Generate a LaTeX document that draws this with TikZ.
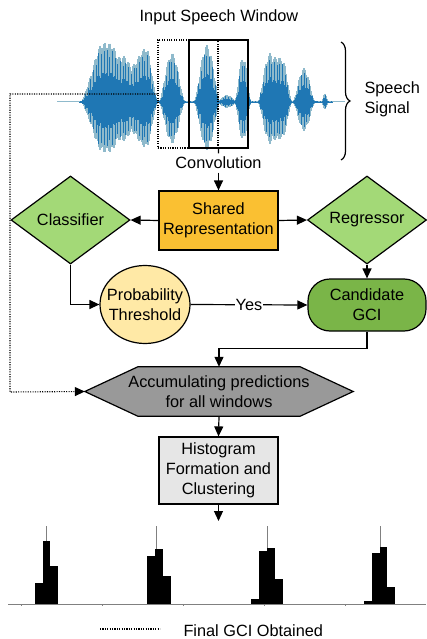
\documentclass[tikz,border=0pt]{standalone}
\usepackage{fontspec}
\setmainfont{Liberation Sans}
\usetikzlibrary{shapes.geometric,arrows.meta,decorations.pathreplacing}

\definecolor{sharedfill}{RGB}{250,192,50}
\definecolor{leaffill}{RGB}{163,217,119}
\definecolor{candfill}{RGB}{122,181,72}
\definecolor{threshfill}{RGB}{255,233,166}
\definecolor{accfill}{RGB}{153,153,153}
\definecolor{histfill}{RGB}{230,230,230}
\definecolor{wavelight}{RGB}{143,186,204}
\definecolor{wavedark}{RGB}{31,119,180}

% one bump of the speech envelope: centre, height, half width
\newcommand{\wbump}[3]{#2*max(0,1-((\x-#1)/#3)^2)^2}
\newcommand{\wavenv}{1+\wbump{95}{30}{14}+\wbump{110}{58}{20}+\wbump{128}{38}{12}%
  +\wbump{142}{50}{12}+\wbump{150}{25}{8}+\wbump{172}{48}{13}+\wbump{207}{56}{13}%
  +\wbump{227}{6}{10}+\wbump{243}{45}{8}+\wbump{270}{48}{12}+\wbump{282}{42}{10}%
  +\wbump{304}{33}{11}+\wbump{325}{8}{3}}

\begin{document}
\begin{tikzpicture}[x=1pt,y=-1pt,
  >={Triangle[width=9pt,length=10pt]},
  every node/.style={font=\fontsize{16.3}{20}\selectfont},
  block/.style={rectangle,draw,line width=1.2pt,align=center,inner sep=0pt,minimum width=119pt},
  decision/.style={diamond,draw,line width=1.2pt,fill=leaffill,aspect=1.35,inner sep=0pt,
    minimum width=119pt,minimum height=88pt},
  link/.style={->,line width=1.2pt},
  feedback/.style={line width=1.1pt,dash pattern=on 1.1pt off 1.3pt}]

  \useasboundingbox (0,0) rectangle (426,639);

  % speech waveform
  \draw[wavelight,line width=1pt] (57,102) -- (345,102);
  \foreach \x in {80,81,...,332}{
    \pgfmathsetmacro{\up}{(\wavenv)*(0.8+0.2*abs(sin(\x*37)))}
    \draw[wavelight,line width=1.1pt] (\x,102-\up) -- (\x,102+0.85*\up);
  }
  \foreach \x in {80,82.7,...,332}{
    \pgfmathsetmacro{\up}{(\wavenv)*(0.75+0.15*abs(sin(\x*41)))}
    \draw[wavedark,line width=0.9pt] (\x,102-\up) -- (\x,102+0.85*\up);
  }
  \foreach \x in {80,81,...,332}{
    \pgfmathsetmacro{\dn}{(\wavenv)*(0.35+0.15*abs(sin(\x*43)))}
    \draw[wavedark,line width=1.1pt] (\x,102-\dn) -- (\x,102+0.9*\dn);
  }

  \node (title) at (219,17) {Input Speech Window};
  \node[draw,feedback,minimum width=60pt,minimum height=108pt,inner sep=0pt] (prevwin) at (188,94) {};
  \node[draw,line width=1.5pt,minimum width=59pt,minimum height=108pt,inner sep=0pt] (win) at (218.5,94) {};
  \node (conv) at (218.5,163) {Convolution};
  \draw[line width=1.2pt,decorate,decoration={brace,amplitude=9pt}] (341,42) -- (341,160);
  \node[align=left,anchor=west] (sig) at (361,99) {Speech\\Signal};

  \node[block,fill=sharedfill,minimum height=59pt] (shared) at (218.5,220.5) {Shared\\Representation};
  \node[decision] (cls) at (70.5,220) {Classifier};
  \node[decision] (reg) at (367,220) {Regressor};
  \node[ellipse,draw,line width=1.2pt,fill=threshfill,minimum width=90pt,minimum height=78pt,
    inner sep=0pt,align=center] (thr) at (145,304.5) {\makebox[0pt]{Probability}\\\makebox[0pt]{Threshold}};
  \node[block,fill=candfill,rounded corners=22pt,minimum width=118pt,minimum height=52pt] (cand) at (367,305) {Candidate\\GCI};
  \node[minimum width=268pt,minimum height=49pt,inner sep=0pt] (acc) at (219,391.5) {};
  \filldraw[line width=1.2pt,fill=accfill] (acc.west) -- ([xshift=53pt]acc.north west)
    -- ([xshift=-53pt]acc.north east) -- (acc.east) -- ([xshift=-53pt]acc.south east)
    -- ([xshift=53pt]acc.south west) -- cycle;
  \node[align=center] (acctext) at (acc) {Accumulating predictions\\for all windows};
  \node[block,fill=histfill,minimum height=67pt] (hist) at (218.5,470.5) {Histogram\\Formation and\\Clustering};
  \coordinate (histout) at (218.5,521);

  \draw[line width=1.2pt] (prevwin.south east) -- (conv.north);
  \draw[link] (conv) -- (shared);
  \draw[link] (shared.west) -- (cls.east);
  \draw[link] (shared.east) -- (reg.west);
  \draw[link] (cls.south) |- (thr.west);
  \draw[link] (thr.east) -- node[fill=white,inner sep=1pt] (yes) {Yes} (cand.west);
  \draw[link] (reg.south) -- (cand.north);
  \draw[link] (cand.south) -- ++(0,17) -| (acc.north);
  \draw[link] (acc.south) -- (hist.north);
  \draw[link] (hist.south) -- (histout);
  \draw[feedback,->] (prevwin.west) -- (10,94) -- (10,392) -- (acc.west);

  % final histograms
  \draw[gray,line width=0.6pt] (8,604) -- (426,604);
  \foreach \t in {21,102,183,264,345}
    \draw[gray,line width=0.4pt] (\t,604) -- (\t,606);
  \foreach \a/\b/\h in {35/43/583,43/50/541,50/58/566,147/155/556,155/163/549,163/171/576,
      251/259/599,259/267/551,267/275/548,275/283/579,364/372/601,372/380/553,380/387/547,387/395/587}
    \fill (\a,604) rectangle (\b,\h);
  \foreach \m/\h in {46/541,156/549,267/548,380/547}
    \draw[gray,line width=0.6pt] (\m,526) -- (\m,\h);

  \coordinate (legA) at (100,629);
  \coordinate (legB) at (160,629);
  \draw[feedback] (legA) -- (legB);
  \node[anchor=west] (legtxt) at (180,631) {Final GCI Obtained};
\end{tikzpicture}
\end{document}
